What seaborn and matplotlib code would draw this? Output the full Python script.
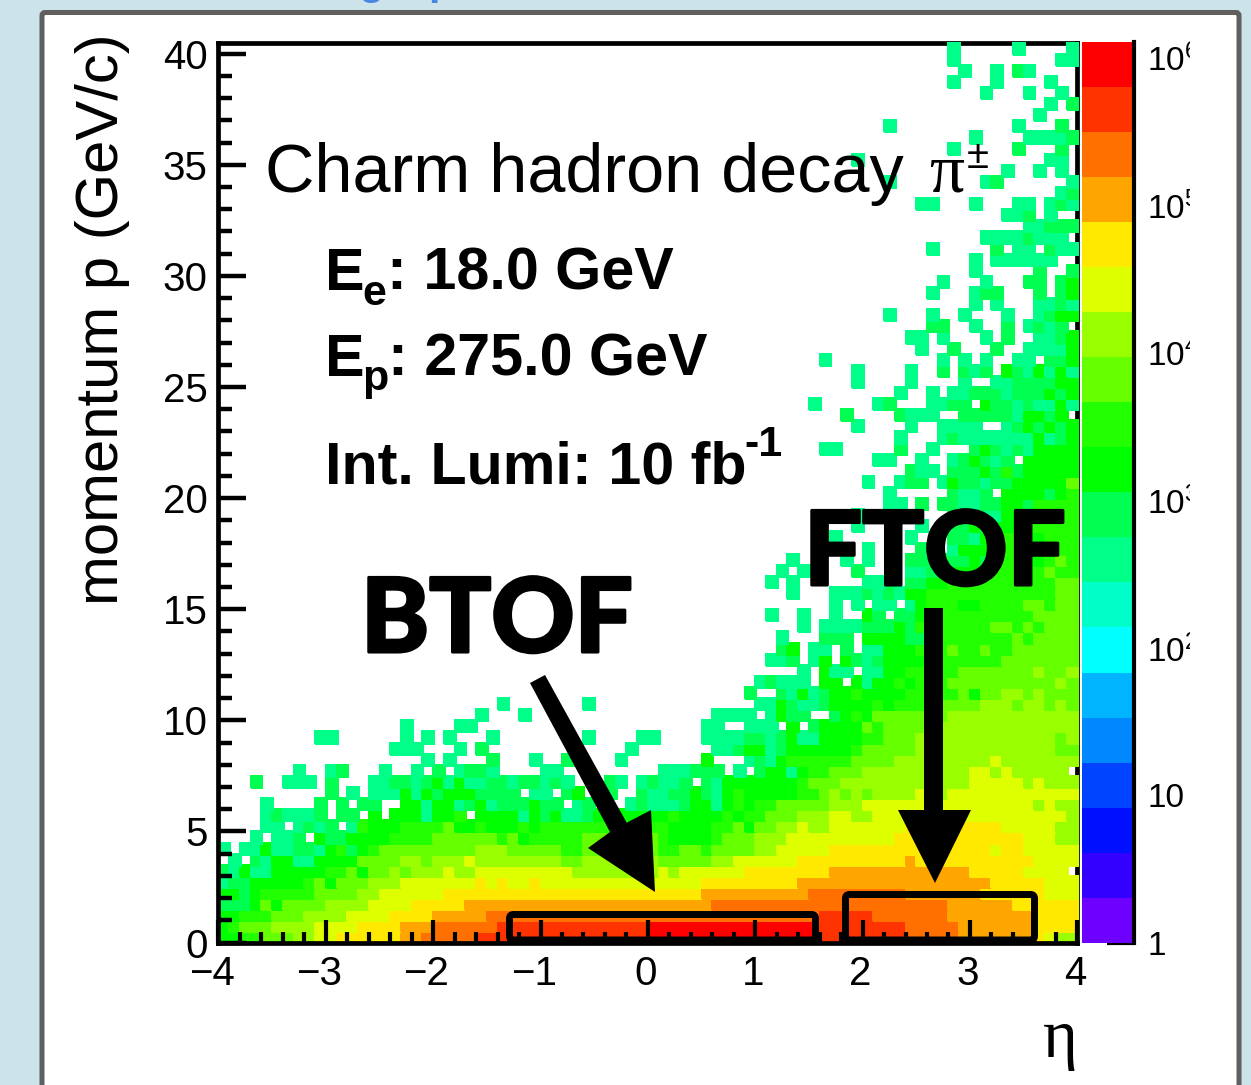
import numpy as np
import pandas as pd
import seaborn as sns
import matplotlib.pyplot as plt
import matplotlib.patheffects as pe
from matplotlib.colors import ListedColormap, LogNorm
from matplotlib.patches import FancyBboxPatch, Polygon, Rectangle
from matplotlib.ticker import FixedLocator, NullFormatter
from matplotlib.transforms import Affine2D

# Histogram: one string per momentum bin, top row first.
# "col:letters" = the letters start at that eta bin, a = colour band 9 ... l = band 20
rows = [
    "68:a 74:a 79:a",
    "68:a 78:aa",
    "69:a 72:a 74:ba",
    "68:a 72:a 77:a",
    "71:a 75:a 78:a",
    "77:a 79:b",
    "76:a",
    "62:a 74:a 78:b",
    "70:a 75:aaaab",
    "68:a 74:b 78:b",
    "59:a 77:aa",
    "73:a 76:a 78:a",
    "62:a 71:ab 79:a",
    "78:ab",
    "65:aa 70:a 74:aa 77:aba",
    "73:aab 77:a",
    "75:aabbb",
    "71:aaaabaaa",
    "66:a 72:b 74:aa 77:baa",
    "70:a 72:aaaaaa",
    "70:a 76:b 79:b",
    "67:a 71:a 75:bb 78:bc",
    "66:a 70:abb 76:b 78:bc",
    "70:a 72:a 76:aaba",
    "62:a 66:a 69:a 73:a 76:abcc",
    "66:bb 70:a 73:b 75:abab",
    "64:aa 67:a 71:a 73:b 76:aabc",
    "65:a 68:b 72:b 75:aaaac",
    "56:a 67:a 69:a 71:a 74:aa 77:bbc",
    "59:a 64:a 67:b 69:bab 73:cbacaca",
    "59:a 64:a 69:a 72:aabbbbcc",
    "63:a 66:a 68:aabbbabbbcbc",
    "55:a 61:ab 66:aabb 71:cbbabaaca",
    "58:b 63:baaa 69:bbbbbaccbc",
    "59:a 64:a 67:aaaa 73:abcbcbc",
    "63:a 67:abaaaaaaacabc",
    "56:aa 63:b 66:a 70:bcbabacccc",
    "61:aa 65:a 68:abcbab 75:ccccc",
    "64:baa 68:bbbcbdbccccc",
    "60:a 63:abb 67:acbbabbccccce",
    "62:a 68:ba 70:ab 73:ccccbcd",
    "62:aa 65:b 67:bba 70:abbccbdddd",
    "59:a 63:a 68:bbbaaccddddd",
    "59:a 65:a 68:bbcbcccddddd",
    "57:a 64:a 68:bbaccdddcddd",
    "60:a 65:b 68:accccddddddd",
    "53:a 58:a 60:a 64:bbbbb 69:bcbddddcded",
    "52:a 54:a 59:b 64:aab 67:cccccdddddedd",
    "51:a 53:a 60:aa 64:bbc 67:cddddddddddee",
    "53:a 57:aaa 60:babacc 66:ddddddddddddee",
    "57:a 59:a 61:aa 64:ac 66:dddccddddeedee",
    "51:a 54:a 57:a 60:cb 63:bbc 66:ddddddddddeeee",
    "54:a 56:aaaabbbcbdddddddeededeee",
    "52:a 56:bbb 60:ccccbbddddddddedeeee",
    "52:bc 55:aa 58:b 60:aa 62:cccdddeddeddeeeeee",
    "51:aab 55:ac 58:cbabccccdddddddeeeeeee",
    "54:a 56:caa 60:aa 62:ccdddddeeeeeeefeef",
    "50:abaaa 56:cc 59:caccdcdddeeeeeeeeeefe",
    "49:b 52:bacabccdccccdddddeceeffefeee",
    "26:a 34:a 50:aacbaabccccdcddddeeeefffeffefe",
    "24:a 28:a 46:aaaa 51:acbb 57:bcdceeeeeeeffffffffffff",
    "17:a 22:aa 45:aa 49:aaa 53:c 55:bccccedeeeeffffffffffffff",
    "9:aa 17:a 19:a 21:a 25:a 34:a 39:aa 45:aaaabbabcaaccccddeeefffffffffffffef",
    "16:aaa 22:a 24:b 38:a 46:aabccabccccccdeeeeefffffffffffffee",
    "19:a 21:a 25:b 29:a 32:b 37:a 45:c 49:abacddddddeeeefffffffffgfffffff",
    "7:a 10:ab 15:a 18:a 20:b 22:abba 30:aa 41:aaabbb 48:a 50:bccacddeeeffffffffffggfgfffff",
    "3:b 6:aaa 10:b 14:aabbabcacaabbabbaba 36:b 37:a 39:a 40:baab 45:bacccccccdeeeffffffffffffgggggfgfff",
    "10:b 12:a 14:aaacacbcccbbbb 29:aa 32:bc 36:b 39:baabbcbacdcccccddefefeffffgffgggggggggggg",
    "4:a 9:b 11:b 13:bb 17:ccaccabcabbbcbb 33:ab 38:abaaabccacdcddeeeeefffggggggggggggggggfgff",
    "4:abaaab 11:bb 14:c 16:cccaccd 24:ccccacbcaabcccccccdccccdcddeeefffggffggggggggggggggggggf",
    "4:aa 7:abab 12:adcccddddeccdcccdcddddddddddddccccddeceeffgffggggggghhhhhhhhhgggggff",
    "3:a 5:aab 9:cbbccccddddeeeeeedecdddddeeeeeeedccccdeeefffgggggggggghhhhhhhhhhhhgggff",
    "0:a 2:aacaabbacdbcdeeeeeeeeefffeeeeeddeeeeeeeddeedeeeeffggggghhhhhhhhhhhhhhhghhggggg",
    "1:a 3:baccaacccceeeeffefffgffffffffeefffffffeeeeeffgggggghhhhhhhhhhihhhhhhhhhhhgggg",
    "0:bacaacccccddeceefefffgffgggggggggffffffffgfgggggghhhhhhhhiiiiiiiiiiiiihhhhhgggg",
    "0:abbcccccdeceeefffggggggghghgghggggggggggggggghhhhhhhhhiiiiiiiiiiiiiiiiiihhhhhgggg",
    "0:ccbcdddddeeeeffgggggghhhhhhhhhhhhhhhhhhhhhhhhiiiiiiiiiijjjjjjjjjiiiiiiihhhhhhggg",
    "0:bbbceceeeeffffgggghhhhhiiiiiiiiiiiiiiiiiiiiiiijjjjjjjjjjjjjjjjjjjjjjiiiiiihhhhhh",
    "0:ccdddeeeffffgggghhhhiiiiijjjjjjjjjjjjjjjjjjjjjjjjjjjjjjjkkkkkjjjjjjjiiiiiiiihhhh",
    "0:cdeeeffffgggghhhhiiijjjjjjkkkkkkkkkkkkkkllllllllllllllllkkkkkkkkjjjjjiiiiiiihhhh",
    "0:ccddeeeffgghhhhhhiijjjjjkkkkkkkkkkkkkkkkllllllllllllllllkkkkkkkkjjjjjiiiiiiihgff",
]
band_letters = "abcdefghijkl"
first_band = 9
eta_ticks = [-4, -3, -2, -1, 0, 1, 2, 3, 4]
p_ticks = [0, 5, 10, 15, 20, 25, 30, 35, 40]
z_ticks = [1, 10, 100, 1000, 10000, 100000, 1000000]
z_labels = ["1", "10", r"$\mathregular{10^{2}}$", r"$\mathregular{10^{3}}$",
            r"$\mathregular{10^{4}}$", r"$\mathregular{10^{5}}$", r"$\mathregular{10^{6}}$"]
palette = ["#6e00ff", "#3300ff", "#0010ff", "#0044ff", "#0088ff", "#00b4ff", "#00ffff",
           "#00ffc8", "#00ff88", "#00ff50", "#00ff00", "#22ff00", "#66ff00", "#99ff00",
           "#ddff00", "#ffe900", "#ffa500", "#ff7000", "#ff3300", "#ff0000"]
z_decades = 6.11

n_eta = 80
n_p = len(rows)
eta_step = 0.1
p_step = 0.5

# turn the strings into counts (middle of each colour band), lowest momentum first
table = np.full((n_p, n_eta), np.nan)
for i, row in enumerate(rows[::-1]):
    for part in row.split():
        start, letters = part.split(":")
        for k, ch in enumerate(letters):
            col = int(start) + k
            if col < n_eta:
                band = first_band + band_letters.index(ch)
                table[i, col] = 10 ** ((band - 0.5) * z_decades / len(palette))
df = pd.DataFrame(table)

sns.set_theme(style="white")
plt.rcParams["font.family"] = ["Liberation Sans", "DejaVu Sans"]

fig = plt.figure(figsize=(12.51, 10.85), dpi=100, facecolor="#cde3ea")
W, H = 1251, 1085
to_px = Affine2D().scale(1, -1).translate(0, H)  # picture pixels, y going down


def axes_at(x0, y0, x1, y1):
    return fig.add_axes([x0 / W, 1 - y1 / H, (x1 - x0) / W, (y1 - y0) / H])


def put(x, y, s, size, **kw):
    kw.setdefault("color", "black")
    return fig.text(x, y, s, fontsize=size, transform=to_px, va="baseline", **kw)


# slide frame, and the bottom of the heading that is cut off above it
fig.add_artist(FancyBboxPatch((42, 12.5), 1197, 1200, boxstyle="round,pad=0,rounding_size=3",
                              fc="white", ec="#5f5f5f", lw=3.6, transform=to_px, zorder=-1))
put(358, -6, "g", 30, color="#4a86e0", fontweight="bold")
put(428, -6, "p", 30, color="#4a86e0", fontweight="bold")

ax = axes_at(218.5, 42.5, 1077.3, 942.5)
cax = axes_at(1082, 41.5, 1133.5, 943)

sns.heatmap(df, ax=ax, cmap=ListedColormap(palette), norm=LogNorm(1, 10 ** z_decades),
            cbar_ax=cax, linewidths=1.8, linecolor="face", xticklabels=False, yticklabels=False)
ax.set_ylim(0, n_p)
ax.set_xlabel("")
ax.set_ylabel("")
mesh = ax.collections[0]
mesh.set_clip_on(False)
mesh.set_zorder(2.3)
ax.set_axisbelow(False)

# ticks, heatmap axes count in cells
to_col = lambda v: (np.asarray(v, dtype=float) + 4) / eta_step
to_row = lambda v: np.asarray(v, dtype=float) / p_step
ax.set_xticks(to_col(eta_ticks))
ax.set_xticklabels([str(v).replace("-", "\u2212") for v in eta_ticks], fontsize=29, rotation=0)
ax.set_yticks(to_row(p_ticks))
ax.set_yticklabels([str(v) for v in p_ticks], fontsize=29, rotation=0)
ax.xaxis.set_minor_locator(FixedLocator(to_col(np.arange(-4, 4.01, 0.2))))
ax.yaxis.set_minor_locator(FixedLocator(to_row(np.arange(0, 40.5, 1))))
ax.tick_params(axis="x", which="major", direction="in", length=16.5, width=3, pad=9, bottom=True, color="black", labelcolor="black")
ax.tick_params(axis="x", which="minor", direction="in", length=8, width=3, bottom=True, color="black")
ax.tick_params(axis="y", which="major", direction="in", length=20, width=3.2, pad=8, left=True, color="black", labelcolor="black")
ax.tick_params(axis="y", which="minor", direction="in", length=10, width=3.2, left=True, color="black")
for v, lab in zip(eta_ticks, ax.get_xticklabels()):
    shift = -7 if v < 0 else -2
    lab.set_transform(lab.get_transform() + Affine2D().translate(shift, 0))
for name, spine in ax.spines.items():
    spine.set_visible(True)
    spine.set_color("black")
    spine.set_linewidth(3.4)
    spine.set_zorder(3 if name in ("left", "bottom") else 2)

# colour bar
cbar = mesh.colorbar
cbar.outline.set_visible(False)
cax.yaxis.set_ticks_position("right")
cbar.set_ticks(z_ticks, labels=z_labels)
cax.yaxis.set_minor_locator(FixedLocator([m * t for t in z_ticks[:-1] for m in range(2, 10)]))
cax.yaxis.set_minor_formatter(NullFormatter())
cax.tick_params(axis="y", which="major", direction="in", length=19.5, width=3, labelsize=24, pad=10, right=True, color="black", labelcolor="black")
cax.tick_params(axis="y", which="minor", direction="in", length=10, width=3, right=True, color="black")
cax.spines["right"].set_visible(True)
cax.spines["right"].set_color("black")
cax.spines["right"].set_linewidth(3)
label_clip = Rectangle((1140, 0), 49.5, H, transform=to_px)
for lab in cax.get_yticklabels():
    lab.set_clip_on(True)
    lab.set_clip_path(label_clip)

# axis titles
put(118, 605, "momentum p (GeV/c)", 43, rotation=90, ha="left", rotation_mode="anchor")
put(1043, 1057, "\u03b7", 48, family="Liberation Serif")

# text on the plot
put(265, 192, "Charm hadron decay", 49.2)
put(929, 192, "\u03c0", 50, family="Liberation Serif")
put(967, 168, "\u00b1", 29)
put(325, 290, "E", 42.7, fontweight="bold")
put(362, 305, "e", 31, fontweight="bold")
put(387, 290, ": 18.0 GeV", 42.7, fontweight="bold")
put(325, 376, "E", 42.7, fontweight="bold")
put(362, 390, "p", 31, fontweight="bold")
put(388, 376, ": 275.0 GeV", 42.7, fontweight="bold")
put(325, 483, "Int. Lumi: 10 fb", 42.7, fontweight="bold")
put(744, 456, "-1", 31, fontweight="bold")
heavy = [pe.withStroke(linewidth=2.2, foreground="black")]
put(361, 652, "BTOF", 74, family="Lato", fontweight="black", path_effects=heavy)
put(804, 585, "FTOF", 74, family="Lato", fontweight="black", path_effects=heavy)

# arrows and detector boxes
fig.add_artist(Polygon([(530, 683), (545, 675), (626.7, 822.7), (651, 810), (655, 892), (588, 848), (610, 832)],
                       fc="black", ec="none", transform=to_px, zorder=5))
fig.add_artist(Polygon([(924, 608), (943, 608), (943, 810), (971, 810), (935, 883), (898, 810), (924, 810)],
                       fc="black", ec="none", transform=to_px, zorder=5))
for x0, y0, x1, y1 in [(509.5, 914.5, 815.5, 940), (845.5, 894.5, 1034.5, 940)]:
    fig.add_artist(FancyBboxPatch((x0, y0), x1 - x0, y1 - y0, boxstyle="round,pad=0,rounding_size=4",
                                  fc="none", ec="black", lw=5, transform=to_px, zorder=5))

plt.savefig("out.png", dpi=100, facecolor=fig.get_facecolor())
